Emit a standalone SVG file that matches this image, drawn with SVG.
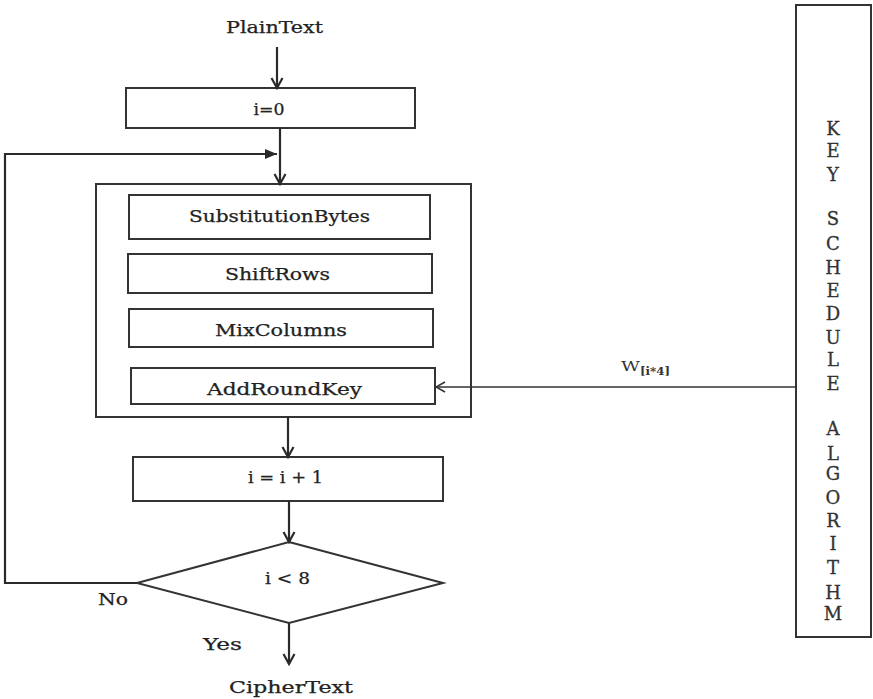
<svg xmlns="http://www.w3.org/2000/svg" width="873" height="699" viewBox="0 0 873 699">
  <style>
    .box { fill: #ffffff; stroke: #333333; stroke-width: 2; }
    .lbl { font-family: "DejaVu Serif", "Liberation Serif", serif; font-size: 16px; fill: #222222; stroke: #222222; stroke-width: 0.25; text-anchor: middle; }
    .key { font-family: "DejaVu Serif", "Liberation Serif", serif; font-size: 18px; fill: #333333; stroke: #333333; stroke-width: 0.3; text-anchor: middle; }
    .wire { fill: none; stroke: #2a2a2a; stroke-width: 2.2; }
    .thin { fill: none; stroke: #333333; stroke-width: 1.6; }
  </style>
  <defs>
    <marker id="chev" viewBox="0 0 14 14" refX="12" refY="7" markerWidth="14" markerHeight="14" markerUnits="userSpaceOnUse" orient="auto">
      <path d="M2,1.5 L12,7 L2,12.5" fill="none" stroke="#2a2a2a" stroke-width="2.2"/>
    </marker>
    <marker id="tri" viewBox="0 0 12 10" refX="12" refY="5" markerWidth="12" markerHeight="10" markerUnits="userSpaceOnUse" orient="auto">
      <path d="M0,0 L12,5 L0,10 z" fill="#2a2a2a"/>
    </marker>
    <marker id="open" viewBox="0 0 12 12" refX="11" refY="6" markerWidth="12" markerHeight="12" markerUnits="userSpaceOnUse" orient="auto">
      <path d="M2,1 L11,6 L2,11" fill="none" stroke="#333333" stroke-width="1.6"/>
    </marker>
  </defs>

  <rect width="873" height="699" fill="#ffffff"/>

  <!-- terminal labels -->
  <g id="plaintext">
    <text class="lbl" x="274.5" y="33" textLength="97" lengthAdjust="spacingAndGlyphs">PlainText</text>
  </g>
  <g id="init">
    <rect class="box" x="126" y="88" width="289" height="40"/>
    <text class="lbl" x="269" y="115" textLength="31" lengthAdjust="spacingAndGlyphs">i=0</text>
  </g>

  <!-- round body -->
  <g id="round">
    <rect class="box" x="96" y="184" width="375" height="233"/>
  </g>
  <g id="subbytes">
    <rect class="box" x="129" y="195" width="301" height="44"/>
    <text class="lbl" x="279.5" y="222" textLength="181" lengthAdjust="spacingAndGlyphs">SubstitutionBytes</text>
  </g>
  <g id="shiftrows">
    <rect class="box" x="128" y="254" width="304" height="39"/>
    <text class="lbl" x="277.5" y="280" textLength="105" lengthAdjust="spacingAndGlyphs">ShiftRows</text>
  </g>
  <g id="mixcolumns">
    <rect class="box" x="129" y="309" width="304" height="38"/>
    <text class="lbl" x="281" y="336" textLength="132" lengthAdjust="spacingAndGlyphs">MixColumns</text>
  </g>
  <g id="addroundkey">
    <rect class="box" x="131" y="368" width="304" height="36"/>
    <text class="lbl" x="284.5" y="395" textLength="155" lengthAdjust="spacingAndGlyphs">AddRoundKey</text>
  </g>

  <g id="increment">
    <rect class="box" x="133" y="457" width="310" height="44"/>
    <text class="lbl" x="285.5" y="483" textLength="75" lengthAdjust="spacingAndGlyphs">i = i + 1</text>
  </g>

  <g id="test">
    <polygon class="box" points="289,542 443,583 289,623 137,583"/>
    <text class="lbl" x="287.5" y="584" textLength="45" lengthAdjust="spacingAndGlyphs">i &lt; 8</text>
  </g>

  <g id="ciphertext">
    <text class="lbl" x="291" y="693" textLength="124" lengthAdjust="spacingAndGlyphs">CipherText</text>
  </g>

  <!-- key schedule column -->
  <g id="keyschedule">
    <rect class="box" x="796" y="5" width="75" height="632"/>
    <g class="key">
      <text x="833" y="135">K</text>
      <text x="833" y="157">E</text>
      <text x="833" y="181">Y</text>
      <text x="833" y="225">S</text>
      <text x="833" y="250">C</text>
      <text x="833" y="274">H</text>
      <text x="833" y="297">E</text>
      <text x="833" y="320">D</text>
      <text x="833" y="344">U</text>
      <text x="833" y="366">L</text>
      <text x="833" y="390">E</text>
      <text x="833" y="435">A</text>
      <text x="833" y="460">L</text>
      <text x="833" y="480">G</text>
      <text x="833" y="504">O</text>
      <text x="833" y="527">R</text>
      <text x="833" y="550">I</text>
      <text x="833" y="574">T</text>
      <text x="833" y="599">H</text>
      <text x="833" y="620">M</text>
    </g>
  </g>

  <!-- connectors -->
  <g id="connectors">
    <line class="wire" x1="277" y1="47" x2="277" y2="88" marker-end="url(#chev)"/>
    <line class="wire" x1="280" y1="128" x2="280" y2="184" marker-end="url(#chev)"/>
    <polyline class="wire" points="137,583 5,583 5,154 277,154" marker-end="url(#tri)"/>
    <line class="wire" x1="288" y1="417" x2="288" y2="457" marker-end="url(#chev)"/>
    <line class="wire" x1="289" y1="501" x2="289" y2="542" marker-end="url(#chev)"/>
    <line class="wire" x1="289" y1="623" x2="289" y2="664" marker-end="url(#chev)"/>
    <line class="thin" x1="796" y1="387" x2="436" y2="387" marker-end="url(#open)"/>
    <text font-family="DejaVu Serif, Liberation Serif, serif" fill="#333333">
      <tspan x="621" y="371" font-size="12" textLength="19" lengthAdjust="spacingAndGlyphs">W</tspan><tspan x="640" y="375" font-size="11" font-weight="bold" textLength="30" lengthAdjust="spacingAndGlyphs">[i*4]</tspan>
    </text>
    <text class="lbl" x="113" y="605" textLength="30" lengthAdjust="spacingAndGlyphs">No</text>
    <text class="lbl" x="222.5" y="650" textLength="39" lengthAdjust="spacingAndGlyphs">Yes</text>
  </g>
</svg>
